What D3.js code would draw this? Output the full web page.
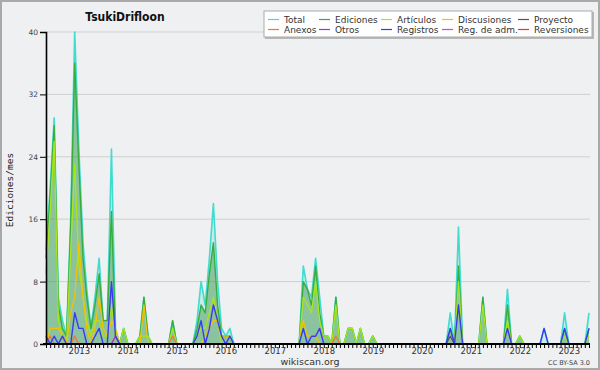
<!DOCTYPE html>
<html>
<head>
<meta charset="utf-8">
<script src="https://cdn.jsdelivr.net/npm/d3@7"></script>
<style>
  body { margin: 0; background: #fff; }
  svg text { font-family: "DejaVu Sans", sans-serif; }
</style>
</head>
<body>
<svg id="chart" width="600" height="370"></svg>
<script>
// months: May 2012 .. June 2023 (one value per month)
const firstMonth = new Date(2012, 4, 1);
const lastMonth = new Date(2023, 5, 1);
const yearLabels = ["2013", "2014", "2015", "2016", "2017", "2018", "2019", "2020", "2021", "2022", "2023"];
const yTicks = [0, 8, 16, 24, 32, 40];

const total = [
  12, 20, 29, 6, 3, 1, 16, 40,
  25, 13, 7, 2, 6, 11, 3, 3, 25, 2, 0, 2,
  0, 0, 0, 1, 6, 1, 0, 0, 0, 0, 0, 3,
  0, 0, 0, 0, 0, 3, 8, 5, 11, 18, 8, 2,
  1, 2, 0, 0, 0, 0, 0, 0, 0, 0, 0, 0,
  0, 0, 0, 0, 0, 0, 0, 10, 7, 6, 11, 6,
  1, 1, 0, 6, 0, 0, 2, 2, 0, 2, 0, 0,
  1, 0, 0, 0, 0, 0, 0, 0, 0, 0, 0, 0,
  0, 0, 0, 0, 0, 0, 0, 4, 0, 15, 0, 0,
  0, 0, 0, 6, 0, 0, 0, 0, 0, 7, 0, 0,
  1, 0, 0, 0, 0, 0, 2, 0, 0, 0, 0, 4,
  0, 0, 0, 0, 0, 4];
const ediciones = [
  11, 19, 28, 5, 2, 1, 15, 36,
  23, 11, 6, 2, 5, 9, 3, 3, 17, 1, 0, 2,
  0, 0, 0, 1, 6, 1, 0, 0, 0, 0, 0, 3,
  0, 0, 0, 0, 0, 2, 5, 4, 9, 13, 5, 1,
  1, 1, 0, 0, 0, 0, 0, 0, 0, 0, 0, 0,
  0, 0, 0, 0, 0, 0, 0, 8, 7, 5, 10, 4,
  1, 1, 0, 6, 0, 0, 2, 2, 0, 2, 0, 0,
  1, 0, 0, 0, 0, 0, 0, 0, 0, 0, 0, 0,
  0, 0, 0, 0, 0, 0, 0, 2, 0, 10, 0, 0,
  0, 0, 0, 6, 0, 0, 0, 0, 0, 5, 0, 0,
  1, 0, 0, 0, 0, 0, 0, 0, 0, 0, 0, 2,
  0, 0, 0, 0, 0, 2];
const articulos = [
  9, 17, 26, 3, 1, 0, 12, 23,
  10, 6, 3, 1, 3, 3, 1, 1, 5, 1, 0, 2,
  0, 0, 0, 1, 1, 1, 0, 0, 0, 0, 0, 2,
  0, 0, 0, 0, 0, 1, 2, 2, 4, 6, 3, 0,
  0, 0, 0, 0, 0, 0, 0, 0, 0, 0, 0, 0,
  0, 0, 0, 0, 0, 0, 0, 6, 5, 4, 8, 3,
  1, 1, 0, 5, 0, 0, 2, 2, 0, 2, 0, 0,
  1, 0, 0, 0, 0, 0, 0, 0, 0, 0, 0, 0,
  0, 0, 0, 0, 0, 0, 0, 1, 0, 8, 0, 0,
  0, 0, 0, 5, 0, 0, 0, 0, 0, 3, 0, 0,
  1, 0, 0, 0, 0, 0, 0, 0, 0, 0, 0, 1,
  0, 0, 0, 0, 0, 1];
const discusiones = [
  0, 2, 2, 2, 1, 0, 4, 6,
  13, 6, 2, 0, 2, 6, 2, 1, 3, 2, 0, 0,
  0, 0, 0, 0, 5, 0, 0, 0, 0, 0, 0, 0,
  0, 0, 0, 0, 0, 0, 0, 1, 2, 3, 3, 1,
  1, 1, 0, 0, 0, 0, 0, 0, 0, 0, 0, 0,
  0, 0, 0, 0, 0, 0, 0, 3, 1, 1, 1, 0,
  0, 0, 0, 0, 0, 0, 0, 0, 0, 0, 0, 0,
  0, 0, 0, 0, 0, 0, 0, 0, 0, 0, 0, 0,
  0, 0, 0, 0, 0, 0, 0, 0, 0, 0, 0, 0,
  0, 0, 0, 0, 0, 0, 0, 0, 0, 0, 0, 0,
  0, 0, 0, 0, 0, 0, 0, 0, 0, 0, 0, 0,
  0, 0, 0, 0, 0, 0];
const proyecto = [
  0, 0, 0, 0, 0, 0, 0, 0,
  0, 0, 0, 0, 0, 0, 0, 0, 0, 0, 0, 0,
  0, 0, 0, 0, 0, 0, 0, 0, 0, 0, 0, 0,
  0, 0, 0, 0, 0, 0, 0, 0, 0, 0, 0, 0,
  0, 0, 0, 0, 0, 0, 0, 0, 0, 0, 0, 0,
  0, 0, 0, 0, 0, 0, 0, 0, 0, 0, 0, 0,
  0, 0, 0, 0, 0, 0, 0, 0, 0, 0, 0, 0,
  0, 0, 0, 0, 0, 0, 0, 0, 0, 0, 0, 0,
  0, 0, 0, 0, 0, 0, 0, 1, 0, 0, 0, 0,
  0, 0, 0, 0, 0, 0, 0, 0, 0, 0, 0, 0,
  0, 0, 0, 0, 0, 0, 0, 0, 0, 0, 0, 0,
  0, 0, 0, 0, 0, 0];
const anexos = [
  0, 1, 0, 0, 1, 0, 0, 1,
  0, 0, 0, 0, 0, 0, 0, 0, 0, 1, 0, 0,
  0, 0, 0, 0, 0, 0, 0, 0, 0, 0, 0, 1,
  0, 0, 0, 0, 0, 0, 0, 0, 0, 0, 0, 0,
  0, 0, 0, 0, 0, 0, 0, 0, 0, 0, 0, 0,
  0, 0, 0, 0, 0, 0, 0, 0, 0, 0, 0, 0,
  0, 0, 0, 1, 0, 0, 0, 0, 0, 0, 0, 0,
  0, 0, 0, 0, 0, 0, 0, 0, 0, 0, 0, 0,
  0, 0, 0, 0, 0, 0, 0, 0, 0, 0, 0, 0,
  0, 0, 0, 0, 0, 0, 0, 0, 0, 0, 0, 0,
  0, 0, 0, 0, 0, 0, 0, 0, 0, 0, 0, 0,
  0, 0, 0, 0, 0, 0];
const otros = [
  0, 0, 0, 0, 0, 0, 0, 0,
  0, 0, 0, 0, 0, 0, 0, 0, 0, 1, 0, 0,
  0, 0, 0, 0, 0, 0, 0, 0, 0, 0, 0, 0,
  0, 0, 0, 0, 0, 0, 0, 0, 0, 0, 0, 0,
  0, 0, 0, 0, 0, 0, 0, 0, 0, 0, 0, 0,
  0, 0, 0, 0, 0, 0, 0, 0, 0, 0, 0, 0,
  0, 0, 0, 0, 0, 0, 0, 0, 0, 0, 0, 0,
  0, 0, 0, 0, 0, 0, 0, 0, 0, 0, 0, 0,
  0, 0, 0, 0, 0, 0, 0, 0, 0, 0, 0, 0,
  0, 0, 0, 0, 0, 0, 0, 0, 0, 0, 0, 0,
  0, 0, 0, 0, 0, 0, 0, 0, 0, 0, 0, 0,
  0, 0, 0, 0, 0, 0];
const registros = [
  1, 0, 1, 0, 1, 0, 0, 4,
  2, 2, 0, 0, 1, 2, 0, 0, 8, 1, 0, 0,
  0, 0, 0, 0, 0, 0, 0, 0, 0, 0, 0, 0,
  0, 0, 0, 0, 0, 1, 3, 0, 2, 5, 3, 1,
  0, 1, 0, 0, 0, 0, 0, 0, 0, 0, 0, 0,
  0, 0, 0, 0, 0, 0, 0, 2, 0, 1, 1, 2,
  0, 0, 0, 0, 0, 0, 0, 0, 0, 0, 0, 0,
  0, 0, 0, 0, 0, 0, 0, 0, 0, 0, 0, 0,
  0, 0, 0, 0, 0, 0, 0, 2, 0, 5, 0, 0,
  0, 0, 0, 0, 0, 0, 0, 0, 0, 2, 0, 0,
  0, 0, 0, 0, 0, 0, 2, 0, 0, 0, 0, 2,
  0, 0, 0, 0, 0, 2];
const regAdm = anexos.map(() => 0);
const reversiones = anexos.map(() => 0);

const series = [
  {name: "Total", values: total, color: "#3fdccf", width: 1.6},
  {name: "Ediciones", values: ediciones, color: "#38ad3c", width: 1.4},
  {name: "Artículos", values: articulos, color: "#a8e61a", width: 1.3},
  {name: "Discusiones", values: discusiones, color: "#f4c300", width: 1.3},
  {name: "Proyecto", values: proyecto, color: "#555555", width: 1.3},
  {name: "Anexos", values: anexos, color: "#ff7030", width: 1.3},
  {name: "Otros", values: otros, color: "#9a33ee", width: 1.3},
  {name: "Registros", values: registros, color: "#3a3af2", width: 1.4},
  {name: "Reg. de adm.", values: regAdm, color: "#e03ae8", width: 1.3},
  {name: "Reversiones", values: reversiones, color: "#f03030", width: 1.3}
];

const months = d3.timeMonth.range(firstMonth, d3.timeMonth.offset(lastMonth, 1));

const svg = d3.select("#chart");
const plotL = 46, plotR = 589, plotT = 32, plotB = 344;

const x = d3.scaleTime().domain([firstMonth, lastMonth]).range([plotL, plotR]);
const y = d3.scaleLinear().domain([0, 40]).range([plotB, plotT]);

// background + frame
svg.append("rect").attr("x", 1).attr("y", 1).attr("width", 598).attr("height", 368)
   .attr("fill", "#eff0f1").attr("stroke", "#a9a9a9").attr("stroke-width", 2);

// grid
svg.append("g").selectAll("line").data(yTicks.filter(d => d > 0)).join("line")
   .attr("x1", plotL).attr("x2", plotR + 1)
   .attr("y1", d => y(d)).attr("y2", d => y(d))
   .attr("stroke", "#cfcfcf").attr("stroke-width", 1);

// areas
const area = vals => d3.area().x((d, i) => x(months[i])).y0(plotB).y1(d => y(d))(vals);
svg.append("path").attr("d", area(total)).attr("fill", "rgba(64,214,206,0.22)");
svg.append("path").attr("d", area(ediciones)).attr("fill", "rgba(40,130,40,0.38)");

// lines
const line = d3.line().x((d, i) => x(months[i])).y(d => y(d));
series.forEach(s => {
  svg.append("path").attr("d", line(s.values))
     .attr("fill", "none").attr("stroke", s.color)
     .attr("stroke-width", s.width).attr("stroke-linejoin", "round");
});

// y axis
const gy = svg.append("g").attr("transform", "translate(" + plotL + ",0)");
gy.call(d3.axisLeft(y).tickValues(d3.range(0, 41, 2)).tickSize(3).tickFormat(""));
gy.call(d3.axisLeft(y).tickValues(yTicks).tickSize(6).tickPadding(2));
gy.selectAll(".domain").attr("stroke", "#000").attr("stroke-width", 1.6);
gy.selectAll(".tick line").attr("stroke", "#000");
gy.selectAll("text").attr("fill", "#444").style("font-size", "7.5px");

// x axis (monthly ticks)
const gx = svg.append("g").attr("transform", "translate(0," + plotB + ")");
gx.call(d3.axisBottom(x).tickValues(months).tickSize(4).tickSizeOuter(0).tickFormat(""));
gx.selectAll(".domain").attr("stroke", "#000").attr("stroke-width", 2)
  .attr("d", "M" + (plotL - 3) + ",0H" + (plotR + 1));
gx.selectAll(".tick line").attr("stroke", "#000");

const gyears = svg.append("g").attr("transform", "translate(0," + plotB + ")");
gyears.call(d3.axisBottom(x).tickValues(yearLabels.map(t => new Date(+t, 0, 1)))
  .tickSize(0).tickPadding(4).tickFormat(d3.timeFormat("%Y")));
gyears.select(".domain").remove();
gyears.selectAll("text").attr("fill", "#333").style("font-size", "8.5px");

// y label
svg.append("text")
   .attr("transform", "translate(13,190) rotate(-90)")
   .attr("text-anchor", "middle")
   .style("font-family", "'DejaVu Sans Mono', monospace")
   .style("font-size", "9.5px").attr("fill", "#222")
   .text("Ediciones/mes");

// title
svg.append("text").attr("x", 125).attr("y", 21).attr("text-anchor", "middle")
   .style("font-family", "'DejaVu Sans Condensed', 'DejaVu Sans', sans-serif")
   .style("font-weight", "bold").style("font-size", "12px").attr("fill", "#111")
   .text("TsukiDrifloon");

// footer
svg.append("text").attr("x", 310).attr("y", 365).attr("text-anchor", "middle")
   .style("font-size", "9.5px").attr("fill", "#333").text("wikiscan.org");
svg.append("text").attr("x", 590).attr("y", 365).attr("text-anchor", "end")
   .style("font-size", "6.5px").attr("fill", "#444").text("CC BY-SA 3.0");

// legend
const leg = svg.append("g");
leg.append("rect").attr("x", 265).attr("y", 12).attr("width", 329).attr("height", 27)
   .attr("fill", "#b8b8b8");
leg.append("rect").attr("x", 264).attr("y", 11).attr("width", 328).attr("height", 26)
   .attr("fill", "#fff").attr("stroke", "#aaa").attr("stroke-width", 1);
const colX = [268, 319, 381, 442, 518];
series.forEach((s, k) => {
  const cx = colX[k % 5], row = Math.floor(k / 5);
  const ly = 19.5 + row * 10;
  leg.append("line").attr("x1", cx).attr("x2", cx + 11).attr("y1", ly).attr("y2", ly)
     .attr("stroke", s.color).attr("stroke-width", 1.2);
  leg.append("text").attr("x", cx + 16).attr("y", ly + 3.2)
     .style("font-size", "9px").attr("fill", "#333").text(s.name);
});
</script>
</body>
</html>
